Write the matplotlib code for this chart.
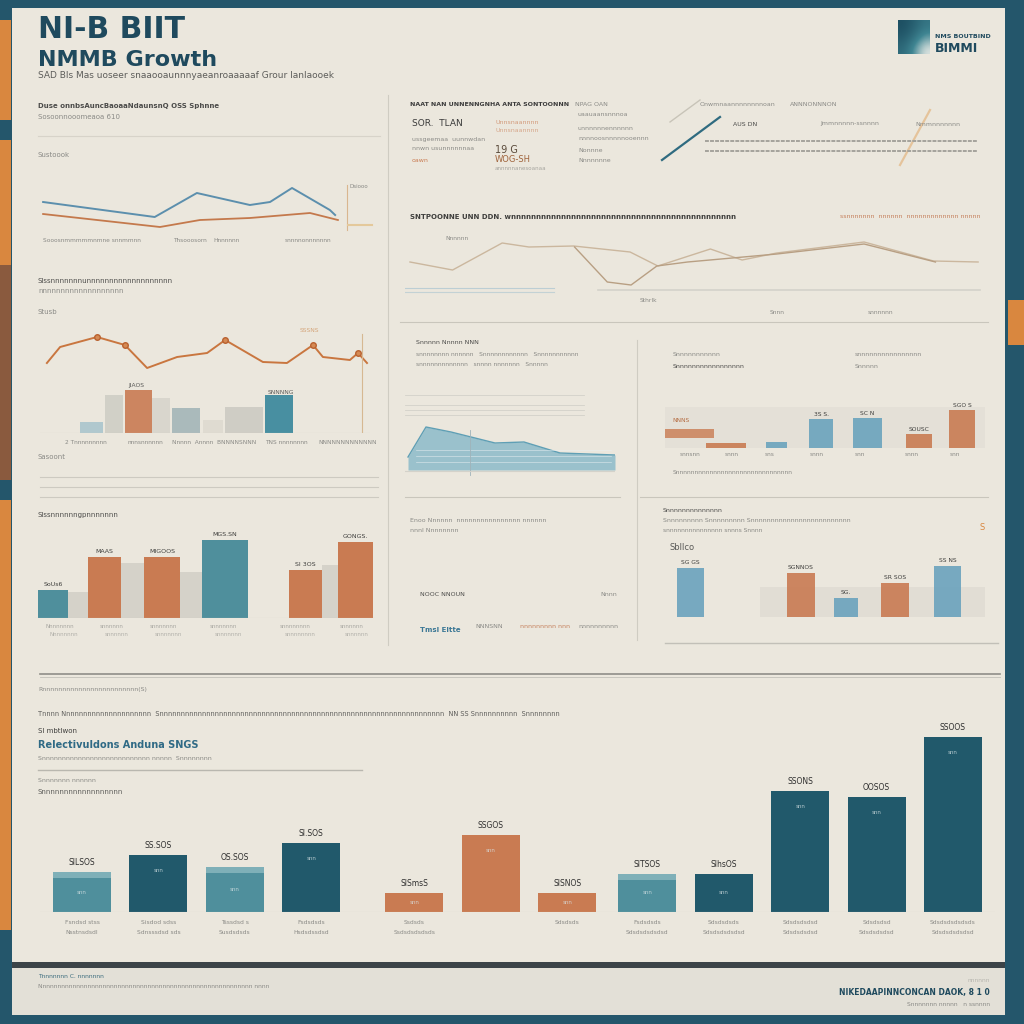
import matplotlib
matplotlib.use("Agg")
import matplotlib.pyplot as plt
from matplotlib.colors import LinearSegmentedColormap
from matplotlib.patches import Rectangle

W, H = 1024, 1024

TEAL_DARK = "#21596b"
TEAL_LIGHT = "#4f8f9c"
BLUE = "#6aa3bd"
ORANGE = "#c97b52"
ORANGE_BRIGHT = "#d9873f"
CREAM = "#ebe7dd"
INK = "#1f4a5e"
GREY = "#8a8a86"

# panel 1: two trend lines
trend_blue_x = [0.1, 3.7, 5.06, 6.77, 7.42, 8.13, 9.35, 9.52]
trend_blue_y = [3.3, 1.8, 4.2, 3.0, 3.3, 4.7, 2.5, 2.0]
trend_orange_x = [0.1, 3.87, 5.16, 6.77, 8.71, 9.61]
trend_orange_y = [2.1, 0.8, 1.5, 1.7, 2.2, 1.5]
trend_labels = ["Sooosnmmmmmnmne snnmmnn", "Thsooosorn", "Hnnnnnn", "snnnnonnnnnnn"]

# panel 2: wide line chart
wide_a_x = [0.5, 4.8, 9.8, 12.5, 17, 22.7, 25.5, 30.8, 34, 37.5, 46.3, 53.3, 57.8]
wide_a_y = [3.8, 3.0, 5.7, 5.3, 5.4, 4.8, 3.4, 5.1, 4.0, 4.7, 5.8, 3.9, 3.8]
wide_b_x = [17.1, 20.4, 22.8, 25.4, 28.5, 37.5, 46.3, 53.5]
wide_b_y = [5.3, 1.8, 1.5, 3.4, 3.8, 4.6, 5.6, 3.8]

# panel 3: orange line over bars
combo_line_x = [0.23, 0.67, 1.9, 2.83, 3.57, 4.57, 5.57, 6.17, 7.43, 8.23, 9.1, 9.43, 10.33, 10.6, 10.9]
combo_line_y = [7.0, 8.6, 9.6, 8.8, 6.5, 7.6, 8.0, 9.3, 7.1, 7.0, 8.8, 7.6, 7.3, 8.0, 7.0]
combo_marker_idx = [2, 3, 7, 10, 13]
combo_bar_vals = [1.1, 3.8, 4.3, 3.5, 2.5, 1.3, 2.6, 3.8]
combo_bar_colors = [BLUE, "#b9bab3", ORANGE, "#c5c3ba", "#8fa7ad", "#cfcbc1", "#bdbdb5", "#3f8a9e"]
combo_bar_alpha = [0.45, 0.5, 0.9, 0.45, 0.7, 0.4, 0.6, 0.95]

# panel 4: bottom-left bars with soft shadows
left_vals = [2.8, 6.1, 6.1, 7.8, 4.8, 7.6]
left_colors = [TEAL_LIGHT, ORANGE, ORANGE, TEAL_LIGHT, ORANGE, ORANGE]
left_shadow_vals = [2.6, 5.5, 4.6, 5.3]
left_labels = ["SoUs6", "MAAS", "MIGOOS", "MGS.SN", "SI 3OS", "GONGS."]

# panel 5: area chart
area_x = [0.3, 2.1, 4.6, 9.0, 11.9, 15.5, 21.0]
area_y = [2.3, 5.3, 4.8, 3.7, 3.8, 2.7, 2.5]

# panel 6: mid-right bars
mid_vals = [0.5, 0.6, 3.0, 3.1, 1.5, 4.0]
mid_colors = [ORANGE, BLUE, BLUE, BLUE, ORANGE, ORANGE]
mid_labels = ["", "", "3S S.", "SC N", "SOUSC", "SGO S"]

# panel 7: lower-right bars
low_vals = [4.9, 4.4, 1.9, 3.4, 5.1]
low_colors = [BLUE, ORANGE, BLUE, ORANGE, BLUE]
low_labels = ["SG GS", "SGNNOS", "SG.", "SR SOS", "SS NS"]

# main bar chart
main_vals = [4.0, 5.7, 4.5, 6.9, 1.9, 7.7, 1.9, 3.8, 3.8, 12.1, 11.5, 17.5]
main_colors = [TEAL_LIGHT, TEAL_DARK, TEAL_LIGHT, TEAL_DARK, ORANGE, ORANGE, ORANGE,
               TEAL_LIGHT, TEAL_DARK, TEAL_DARK, TEAL_DARK, TEAL_DARK]
main_labels = ["SILSOS", "SS.SOS", "OS.SOS", "SI.SOS", "SISmsS", "SSGOS", "SISNOS",
               "SITSOS", "SlhsOS", "SSONS", "OOSOS", "SSOOS"]
main_cats = [("Fsndsd stss", "Nsstnsdsdl"), ("Sisdod sdss", "Sdnsssdsd sds"),
             ("Tsssdsd s", "Susdsdsds"), ("Fsdsdsds", "Hsdsdssdsd"),
             ("Ssdsds", "Ssdsdsdsdsds"), ("", ""), ("Sdsdsds", ""),
             ("Fsdsdsds", "Sdsdsdsdsdsd"), ("Sdsdsdsds", "Sdsdsdsdsdsd"),
             ("Sdsdsdsdsd", "Sdsdsdsdsd"), ("Sdsdsdsd", "Sdsdsdsdsd"),
             ("Sdsdsdsdsdsds", "Sdsdsdsdsdsd")]


fig = plt.figure(figsize=(W / 100, H / 100), dpi=100)
fig.patch.set_facecolor("#24566b")


def box(x0, y0, x1, y1, color, alpha=1.0):
    fig.patches.append(Rectangle((x0 / W, 1 - y1 / H), (x1 - x0) / W, (y1 - y0) / H,
                                 transform=fig.transFigure, color=color, alpha=alpha,
                                 zorder=-10, lw=0))


def seg(x0, y0, x1, y1, color="#c9c6bc", lw=0.8, **kw):
    fig.add_artist(plt.Line2D([x0 / W, x1 / W], [1 - y0 / H, 1 - y1 / H],
                              transform=fig.transFigure, color=color, lw=lw, **kw))


def hline(x0, x1, y, color="#c9c6bc", lw=0.8):
    seg(x0, y, x1, y, color=color, lw=lw)


def vline(x, y0, y1, color="#cfccc2", lw=0.8):
    seg(x, y0, x, y1, color=color, lw=lw)


def txt(x, y, s, size=5, color=GREY, weight="normal", **kw):
    fig.text(x / W, 1 - y / H, s, fontsize=size, color=color, weight=weight,
             va="center", ha=kw.pop("ha", "left"), **kw)


def panel(x0, y0, x1, y1):
    ax = fig.add_axes([x0 / W, 1 - y1 / H, (x1 - x0) / W, (y1 - y0) / H])
    ax.set_axis_off()
    ax.patch.set_alpha(0)
    return ax


# frame: side stripes, cream sheet, footer
box(0, 20, 11, 120, ORANGE_BRIGHT)
box(0, 140, 11, 265, ORANGE_BRIGHT)
box(0, 265, 11, 480, "#8a5a3e")
box(0, 500, 11, 930, ORANGE_BRIGHT)
box(1008, 300, 1024, 345, ORANGE_BRIGHT)
box(12, 8, 1005, 962, CREAM)
box(12, 962, 1005, 968, "#3c4448")
box(12, 968, 1005, 1015, "#e3e0d7")

# title block
txt(38, 30, "NI-B BIIT", size=21.5, color=INK, weight="bold")
txt(38, 60, "NMMB Growth", size=16, color=INK, weight="bold")
txt(38, 76, "SAD Bls Mas uoseer snaaooaunnnyaeanroaaaaaf Grour Ianlaooek", size=6.5, color="#5d5d5a")

# logo: soft teal gradient tile
logo_cmap = LinearSegmentedColormap.from_list("logo", ["#1d4f62", "#3f8592", "#dfe5e1"])
logo = panel(898, 20, 930, 54)
logo.imshow([[0.0, 0.15, 0.35], [0.1, 0.3, 0.6], [0.25, 0.55, 1.0]], cmap=logo_cmap,
             interpolation="bicubic", extent=(0, 1, 0, 1), aspect="auto")
txt(935, 36, "NMS BOUTBIND", size=4.5, color=INK, weight="bold")
txt(935, 48, "BIMMI", size=9, color=INK, weight="bold")

# dividers
vline(388, 95, 645)
vline(637, 340, 640)
hline(400, 988, 322)
hline(405, 620, 497)
hline(640, 988, 497)
hline(40, 1000, 674, color="#8f8e88", lw=1.2)
hline(40, 1000, 677, color="#c2c0b8", lw=0.6)

# ---- panel 1: trend lines
txt(38, 106, "Duse onnbsAuncBaoaaNdaunsnQ OSS Sphnne", size=5, color="#4c4c4a", weight="bold")
txt(38, 117, "Sosoonnooomeaoa 610", size=5)
hline(38, 380, 136, color="#d7d3c9")
txt(38, 155, "Sustoook", size=5)
ax = panel(40, 175, 350, 235)
ax.plot(trend_blue_x, trend_blue_y, color="#5c8fad", lw=1.4)
ax.plot(trend_orange_x, trend_orange_y, color="#c4794c", lw=1.3)
ax.set_xlim(0, 10)
ax.set_ylim(0, 6)
for x, lab in zip([0.1, 4.3, 5.6, 7.9], trend_labels):
    txt(40 + x * 31, 241, lab, size=4.2)
vline(347, 185, 230, color="#d9b68f")
txt(349, 186, "Dsiooo", size=4)
hline(348, 372, 225, color="#e4c99b", lw=1.5)

# ---- panel 2: text blocks
txt(410, 105, "NAAT NAN UNNENNGNHA ANTA SONTOONNN", size=4.5, color="#3a3a3a", weight="bold")
txt(575, 105, "NPAG OAN", size=4.5)
txt(412, 124, "SOR.  TLAN", size=6.5, color="#3a3a3a")
txt(412, 139, "ussgeemaa  uunnwdan", size=4.5)
txt(412, 149, "nnwn usunnnnnnaa", size=4.5)
txt(412, 160, "oawn", size=4.5, color=ORANGE)
txt(495, 122, "Unnsnaannnn", size=4.5, color=ORANGE, alpha=0.7)
txt(495, 130, "Unnsnaannnn", size=4.5, color=ORANGE, alpha=0.6)
txt(495, 150, "19 G", size=7, color="#5a4a3a")
txt(495, 159, "WOG-SH", size=6, color="#a0643c")
txt(495, 168, "annnnnanesoanaa", size=4, alpha=0.7)
for yy, s in zip([115, 128, 138, 150, 160], ["uaauaansnnnoa", "unnnnnnennnnnn", "nnnnoosnnnnnooennn", "Nonnne", "Nnnnnnne"]):
    txt(578, yy, s, size=4.5)
seg(662, 160, 720, 117, color="#2f6b80", lw=1.6)
seg(670, 122, 700, 100, color="#c8c4b8", lw=1.0)
seg(900, 165, 930, 110, color="#e3b57f", lw=1.6, alpha=0.7)
txt(700, 104, "Onwmnaannnnnnnnoan", size=4.5)
txt(790, 104, "ANNNONNNON", size=4.5)
txt(733, 124, "AUS DN", size=4.5, color="#4c4c4a")
txt(820, 124, "Jmmnnnnn-ssnnnn", size=4.5)
txt(915, 124, "Nmmnnnnnnn", size=4.5)
for yy in (141, 151):
    seg(705, yy, 978, yy, color="#a5a39c", lw=1.4, ls=(0, (2, 0.6)))

# ---- panel 3: wide lines
txt(410, 217, "SNTPOONNE UNN DDN. wnnnnnnnnnnnnnnnnnnnnnnnnnnnnnnnnnnnnnnnnnnnnn", size=5, color="#3f3f3d", weight="bold")
txt(840, 217, "ssnnnnnnn  nnnnnn  nnnnnnnnnnnnn nnnnn", size=4.5, color="#c5805c")
ax = panel(405, 225, 990, 300)
ax.plot(wide_a_x, wide_a_y, color="#cbb79e", lw=1.0)
ax.plot(wide_b_x, wide_b_y, color="#b89f83", lw=1.0)
ax.axhline(1.0, xmin=19.5 / 59, xmax=58 / 59, color="#d4d2ca", lw=1.2)
ax.axhline(1.2, xmin=0, xmax=15 / 59, color="#a9c4d1", lw=0.8, alpha=0.7)
ax.axhline(0.8, xmin=0, xmax=15 / 59, color="#a9c4d1", lw=0.8, alpha=0.6)
ax.set_xlim(0, 59)
ax.set_ylim(0, 7.5)
txt(445, 238, "Nnnnnn", size=4.3)
txt(640, 300, "Sthrlk", size=4.3)
txt(770, 312, "Snnn", size=4.3)
txt(868, 312, "snnnnnn", size=4.3)

# ---- panel 4: combo
txt(38, 281, "Slssnnnnnnnunnnnnnnnnnnnnnnnnnn", size=5, color="#4c4c4a")
txt(38, 291, "nnnnnnnnnnnnnnnnnnn", size=5)
txt(38, 312, "Stusb", size=5)
ax = panel(40, 320, 370, 433)
pos = [1.72, 2.47, 3.28, 4.03, 4.87, 5.77, 6.8, 7.97]
wid = [0.77, 0.6, 0.9, 0.6, 0.93, 0.67, 1.27, 0.93]
for p, v, w, c, a in zip(pos, combo_bar_vals, wid, combo_bar_colors, combo_bar_alpha):
    ax.bar(p, v, width=w, color=c, alpha=a, lw=0)
ax.plot(combo_line_x, combo_line_y, color="#c9763f", lw=1.4)
ax.plot([combo_line_x[i] for i in combo_marker_idx], [combo_line_y[i] for i in combo_marker_idx],
        "o", color="#d58a54", ms=4, mec="#b9612f")
ax.axhline(0, color="#cfccc2", lw=0.8)
ax.axvline(10.73, ymin=0, ymax=0.88, color="#d6b892", lw=0.8)
ax.set_xlim(0, 11)
ax.set_ylim(0, 11.3)
txt(128, 385, "JIAOS", size=4.3, color="#5a5a58")
txt(268, 392, "SNNNNG", size=4.3, color="#5a5a58")
txt(300, 331, "SSSNS", size=4.3, color="#d5a67c")
for x, s in zip([65, 128, 172, 265, 318], ["2 Tnnnnnnnnn", "nnnsnnnnnn", "Nnnnn  Annnn  BNNNNSNNN", "TNS nnnnnnnn", "NNNNNNNNNNNNN"]):
    txt(x, 442, s, size=4.2)
txt(38, 457, "Sasoont", size=5)
for yy in (477, 487, 497):
    hline(40, 378, yy, color="#cdcac1")

# ---- panel 5: bar chart left
txt(38, 515, "Slssnnnnnngpnnnnnnn", size=5, color="#4c4c4a")
ax = panel(35, 530, 375, 618)
ax.bar([4.3, 9.75, 15.6, 29.5], left_shadow_vals, width=[2.0, 2.3, 2.2, 1.6],
       color="#c7c5bc", alpha=0.6, lw=0)
left_pos = [1.8, 6.95, 12.7, 19.0, 27.05, 32.05]
left_wid = [3.0, 3.3, 3.6, 4.6, 3.3, 3.5]
bars = ax.bar(left_pos, left_vals, width=left_wid, color=left_colors, lw=0)
for b, lab in zip(bars, left_labels):
    ax.text(b.get_x() + b.get_width() / 2, b.get_height() + 0.3, lab, ha="center",
            va="bottom", fontsize=4.5, color="#3f3f3d")
ax.axhline(0, color="#cfccc2", lw=0.8)
ax.set_xlim(0, 34)
ax.set_ylim(0, 8.8)
for x, s in zip([45, 100, 150, 210, 280, 340], ["Nnnnnnnn", "snnnnnn", "snnnnnnn", "snnnnnnn", "snnnnnnnn", "snnnnnn"]):
    txt(x, 626, s, size=4, alpha=0.7)
    txt(x + 5, 634, s, size=4, alpha=0.6)

# ---- panel 6: area
txt(416, 343, "Snnnnn Nnnnn NNN", size=4.5, color="#4c4c4a")
txt(416, 354, "snnnnnnnn nnnnnn   Snnnnnnnnnnnn   Snnnnnnnnnnn", size=4.3)
txt(416, 365, "snnnnnnnnnnnnn   snnnn nnnnnnn   Snnnnn", size=4.3)
ax = panel(405, 380, 615, 480)
ax.fill_between(area_x, [1.0] * len(area_x), area_y, color="#7fb5c7", alpha=0.75, lw=0)
ax.plot(area_x, area_y, color="#5f9fb5", lw=1.0)
for yy in (6.5, 7.0, 7.5, 8.5):
    ax.axhline(yy, xmin=0, xmax=0.85, color="#d3d1c9", lw=0.6)
for yy in (1.8, 2.4, 3.0):
    ax.axhline(yy, xmin=0.05, xmax=0.98, color="#e8f0f2", lw=0.5, alpha=0.7)
ax.axvline(6.5, ymin=0.05, ymax=0.5, color="#9fb3ba", lw=0.6)
ax.axhline(0.9, color="#d4d2ca", lw=0.8)
ax.set_xlim(0, 21)
ax.set_ylim(0, 10)

# ---- panel 7: text-only block
txt(410, 521, "Enoo Nnnnnn  nnnnnnnnnnnnnnnn nnnnnn", size=4.5)
txt(410, 531, "nnnl Nnnnnnnn", size=4.5)
txt(420, 595, "NOOC NNOUN", size=4.5, color="#4c4c4a")
txt(600, 595, "Nnnn", size=4.5)
txt(420, 630, "Tmsl Eltte", size=5, color="#3b7795", weight="bold")
txt(475, 626, "NNNSNN", size=4.5)
txt(520, 626, "nnnnnnnnn nnn", size=4.5, color="#c5805c")
txt(578, 626, "nnnnnnnnnn", size=4.5)

# ---- panel 8: mid-right bars
txt(673, 355, "Snnnnnnnnnnn", size=4.5)
txt(673, 366, "Snnnnnnnnnnnnnnnnn", size=4.5, color="#4c4c4a")
txt(855, 355, "snnnnnnnnnnnnnnnn", size=4.5)
txt(855, 366, "Snnnnn", size=4.5)
ax = panel(660, 400, 990, 448)
ax.bar(16.5, 4.3, width=32, color="#dcd9d0", alpha=0.45, lw=0)
ax.bar(2.95, 1.0, bottom=1.0, width=4.9, color=ORANGE, alpha=0.8, lw=0)
mid_pos = [6.6, 11.65, 16.1, 20.75, 25.9, 30.2]
mid_wid = [4.0, 2.1, 2.4, 2.9, 2.6, 2.6]
bars = ax.bar(mid_pos, mid_vals, width=mid_wid, color=mid_colors, lw=0, alpha=0.9)
for b, lab in zip(bars, mid_labels):
    ax.text(b.get_x() + b.get_width() / 2, b.get_height() + 0.2, lab, ha="center",
            va="bottom", fontsize=4.3, color="#3f3f3d")
ax.set_xlim(0, 33)
ax.set_ylim(0, 5)
txt(672, 420, "NNNS", size=4.3, color="#b56d43")
for x, s in zip([680, 725, 765, 810, 855, 905, 950], ["snnsnn", "snnn", "sns", "snnn", "snn", "snnn", "snn"]):
    txt(x, 455, s, size=4.2)
txt(673, 472, "Snnnnnnnnnnnnnnnnnnnnnnnnnnnnnnn", size=4.3)

# ---- panel 9: lower-right bars
txt(663, 510, "Snnnnnnnnnnnnnn", size=4.5, color="#4c4c4a")
txt(663, 520, "Snnnnnnnnn Snnnnnnnnn Snnnnnnnnnnnnnnnnnnnnnnnnn", size=4.5)
txt(663, 530, "snnnnnnnnnnnnnnn snnns Snnnn", size=4.3)
txt(670, 548, "Sbllco", size=6, color="#5a5a58")
txt(980, 527, "S", size=6, color=ORANGE_BRIGHT)
ax = panel(660, 540, 990, 617)
ax.fill_between([10.0, 32.5], [0, 0], [3.0, 3.0], color="#d5d3ca", alpha=0.45, lw=0)
low_pos = [3.05, 14.1, 18.6, 23.5, 28.75]
low_wid = [2.7, 2.8, 2.4, 2.8, 2.7]
bars = ax.bar(low_pos, low_vals, width=low_wid, color=low_colors, lw=0, alpha=0.9)
for b, lab in zip(bars, low_labels):
    ax.text(b.get_x() + b.get_width() / 2, b.get_height() + 0.3, lab, ha="center",
            va="bottom", fontsize=4.3, color="#3f3f3d")
ax.set_xlim(0, 33)
ax.set_ylim(0, 7.7)
hline(665, 998, 643, color="#c2c0b8", lw=1.0)

# ---- main section
txt(38, 690, "Rnnnnnnnnnnnnnnnnnnnnnnnn(S)", size=4.5)
txt(38, 714, "Tnnnn Nnnnnnnnnnnnnnnnnnnnn  Snnnnnnnnnnnnnnnnnnnnnnnnnnnnnnnnnnnnnnnnnnnnnnnnnnnnnnnnnnnnnnnnnnn  NN SS Snnnnnnnnnn  Snnnnnnnn",
    size=4.8, color="#5d5d5a")
txt(38, 731, "Sl mbtlwon", size=5, color="#3f3f3d")
txt(38, 745, "Relectivuldons Anduna SNGS", size=7, color="#2f6a85", weight="bold")
txt(38, 758, "Snnnnnnnnnnnnnnnnnnnnnnnnnnn nnnnn  Snnnnnnnn", size=4.5)
hline(38, 362, 770, color="#b9b7af", lw=1.0)
txt(38, 780, "Snnnnnnn nnnnnn", size=4.5)
txt(38, 792, "Snnnnnnnnnnnnnnnnnn", size=5, color="#5d5d5a")

ax = panel(40, 712, 995, 912)
main_pos = [i + (0.35 if i >= 4 else 0) + (0.05 if i >= 7 else 0) for i in range(len(main_vals))]
bars = ax.bar(main_pos, main_vals, width=0.76, color=main_colors, lw=0)
for b, lab, c in zip(bars, main_labels, main_colors):
    cx = b.get_x() + b.get_width() / 2
    ax.text(cx, b.get_height() + 0.5, lab, ha="center", va="bottom", fontsize=5.5, color="#2f2f2f")
    ax.text(cx, b.get_height() * 0.5 if b.get_height() < 5 else b.get_height() - 1.5, "snn",
            ha="center", va="center", fontsize=4, color="#d9e4e6", alpha=0.8)
    if c == TEAL_LIGHT:
        ax.bar(cx, 0.6, bottom=b.get_height() - 0.6, width=0.76, color="#7fb0b8", lw=0)
ax.axhline(0, color="#c9c6bc", lw=0.8)
ax.set_xlim(-0.55, 11.95)
ax.set_ylim(0, 20)
for p, (a, b) in zip(main_pos, main_cats):
    x_px = 40 + (p + 0.55) / 12.5 * 955
    txt(x_px, 922, a, size=4.3, ha="center")
    txt(x_px, 932, b, size=4.3, ha="center")

# footer
txt(38, 976, "Tnnnnnnn C. nnnnnnn", size=4.3, color="#3b6b7d")
txt(38, 987, "Nnnnnnnnnnnnnnnnnnnnnnnnnnnnnnnnnnnnnnnnnnnnnnnnnnnnnnnnn nnnn", size=4.3)
txt(990, 993, "NIKEDAAPINNCONCAN DAOK, 8 1 0", size=5.5, color=INK, weight="bold", ha="right")
txt(990, 1004, "Snnnnnnn nnnnn   n ssnnnn", size=4.3, ha="right")
txt(990, 980, "nnnnnn", size=4.3, ha="right", alpha=0.5)

fig.savefig("out.png", dpi=100, facecolor=fig.get_facecolor())
